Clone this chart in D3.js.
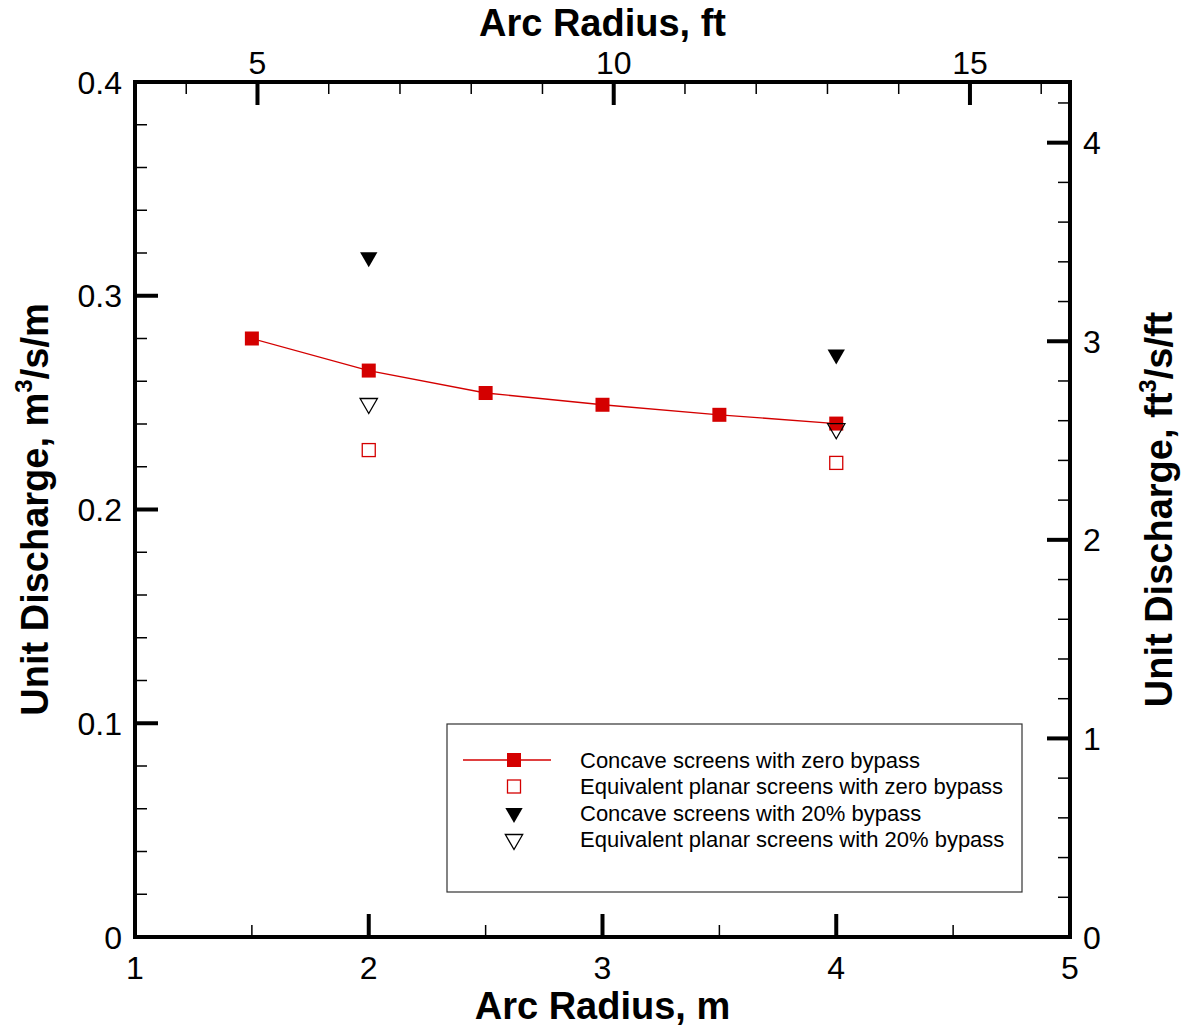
<!DOCTYPE html>
<html>
<head>
<meta charset="utf-8">
<style>
body { margin: 0; background: #fff; }
text { font-family: "Liberation Sans", Arial, sans-serif; }
.tick-label { font-size: 32px; fill: #000; }
.axis-title { font-size: 38px; font-weight: bold; fill: #000; }
.legend text { font-size: 22px; fill: #000; }
</style>
<script src="https://d3js.org/d3.v7.min.js"></script>
</head>
<body>
<svg width="1183" height="1028"></svg>
<script>

// arc radius (m)
var radiusZero = [1.5, 2, 2.5, 3, 3.5, 4];
var concaveZero = [0.280, 0.265, 0.2545, 0.249, 0.2443, 0.2402];
var radiusCmp = [2, 4];
var planarZero = [0.2278, 0.2218];
var concave20 = [0.318, 0.2725];
var planar20 = [0.2496, 0.2378];

var legendLabels = [
  "Concave screens with zero bypass",
  "Equivalent planar screens with zero bypass",
  "Concave screens with 20% bypass",
  "Equivalent planar screens with 20% bypass"
];

var M_TO_FT = 3.28084, Q_TO_FT = 10.7639;

var svg = d3.select("svg"),
    margin = {top: 82, right: 113, bottom: 91, left: 135},
    width = 1183 - margin.left - margin.right,
    height = 1028 - margin.top - margin.bottom,
    g = svg.append("g").attr("transform", "translate(" + margin.left + "," + margin.top + ")");

var x = d3.scaleLinear().domain([1, 5]).range([0, width]);
var y = d3.scaleLinear().domain([0, 0.4]).range([height, 0]);
var xFt = d3.scaleLinear().domain([1 * M_TO_FT, 5 * M_TO_FT]).range([0, width]);
var yFt = d3.scaleLinear().domain([0, 0.4 * Q_TO_FT]).range([height, 0]);

// inward ticks: minor then major
function ticks(scale, minor, major, fmt, side) {
  var minorT = d3.range(Math.ceil(scale.domain()[0] / minor - 1e-6), Math.floor(scale.domain()[1] / minor + 1e-6) + 1)
      .map(function(i) { return i * minor; });
  var majorT = d3.range(Math.ceil(scale.domain()[0] / major - 1e-6), Math.floor(scale.domain()[1] / major + 1e-6) + 1)
      .map(function(i) { return i * major; });
  var grp = g.append("g");
  function drawTick(v, len, sw) {
    var p = scale(v), line = grp.append("line").attr("stroke", "#000").attr("stroke-width", sw);
    if (side === "bottom") line.attr("x1", p).attr("x2", p).attr("y1", height).attr("y2", height - len);
    if (side === "top") line.attr("x1", p).attr("x2", p).attr("y1", 0).attr("y2", len);
    if (side === "left") line.attr("x1", 0).attr("x2", len).attr("y1", p).attr("y2", p);
    if (side === "right") line.attr("x1", width).attr("x2", width - len).attr("y1", p).attr("y2", p);
  }
  minorT.forEach(function(v) { drawTick(v, 12, 1.5); });
  majorT.forEach(function(v) {
    drawTick(v, 23, 4);
    var p = scale(v), t = grp.append("text").attr("class", "tick-label").text(fmt(v));
    if (side === "bottom") t.attr("x", p).attr("y", height + 42).attr("text-anchor", "middle");
    if (side === "top") t.attr("x", p).attr("y", -8).attr("text-anchor", "middle");
    if (side === "left") t.attr("x", -13).attr("y", p + 11.5).attr("text-anchor", "end");
    if (side === "right") t.attr("x", width + 13).attr("y", p + 11.5).attr("text-anchor", "start");
  });
}

ticks(x, 0.5, 1, d3.format("d"), "bottom");
ticks(xFt, 1, 5, d3.format("d"), "top");
ticks(y, 0.02, 0.1, function(v) { return v === 0 ? "0" : d3.format(".1f")(v); }, "left");
ticks(yFt, 0.2, 1, d3.format("d"), "right");

g.append("rect")
    .attr("width", width).attr("height", height)
    .attr("fill", "none").attr("stroke", "#000").attr("stroke-width", 4);

// axis titles
svg.append("text").attr("class", "axis-title").attr("text-anchor", "middle")
    .attr("x", margin.left + width / 2).attr("y", 1019).text("Arc Radius, m");
svg.append("text").attr("class", "axis-title").attr("text-anchor", "middle")
    .attr("x", margin.left + width / 2).attr("y", 36).text("Arc Radius, ft");
var yl = svg.append("text").attr("class", "axis-title").attr("text-anchor", "middle")
    .attr("transform", "translate(48," + (margin.top + height / 2) + ") rotate(-90)");
yl.append("tspan").text("Unit Discharge, m");
yl.append("tspan").attr("dy", -16).attr("font-size", 24).text("3");
yl.append("tspan").attr("dy", 16).text("/s/m");
var yr = svg.append("text").attr("class", "axis-title").attr("text-anchor", "middle")
    .attr("transform", "translate(1172," + (margin.top + height / 2) + ") rotate(-90)");
yr.append("tspan").text("Unit Discharge, ft");
yr.append("tspan").attr("dy", -16).attr("font-size", 24).text("3");
yr.append("tspan").attr("dy", 16).text("/s/ft");

var red = "#d40000";
var tri = d3.symbol().type(d3.symbolTriangle).size(130);

function marker(sel, kind) {
  if (kind === 0) sel.append("rect").attr("x", -7).attr("y", -7).attr("width", 14).attr("height", 14).attr("fill", red);
  if (kind === 1) sel.append("rect").attr("x", -6.5).attr("y", -6.5).attr("width", 13).attr("height", 13)
      .attr("fill", "none").attr("stroke", red).attr("stroke-width", 1.3);
  if (kind === 2) sel.append("path").attr("d", tri).attr("transform", "rotate(180)").attr("fill", "#000");
  if (kind === 3) sel.append("path").attr("d", tri).attr("transform", "rotate(180)")
      .attr("fill", "none").attr("stroke", "#000").attr("stroke-width", 1.3);
}

var line = d3.line().x(function(d) { return x(d[0]); }).y(function(d) { return y(d[1]); });
var zeroPts = d3.zip(radiusZero, concaveZero);
g.append("path").attr("d", line(zeroPts)).attr("fill", "none").attr("stroke", red).attr("stroke-width", 1.3);

function plot(pts, kind) {
  pts.forEach(function(d) {
    var m = g.append("g").attr("transform", "translate(" + x(d[0]) + "," + y(d[1]) + ")");
    marker(m, kind);
  });
}
plot(zeroPts, 0);
plot(d3.zip(radiusCmp, planarZero), 1);
plot(d3.zip(radiusCmp, concave20), 2);
plot(d3.zip(radiusCmp, planar20), 3);

// legend
var lg = svg.append("g").attr("class", "legend").attr("transform", "translate(447,724)");
lg.append("rect").attr("width", 575).attr("height", 168).attr("fill", "#fff")
    .attr("stroke", "#333").attr("stroke-width", 1.2);
legendLabels.forEach(function(lbl, i) {
  var ry = 36 + i * 26.5;
  if (i === 0) lg.append("line").attr("x1", 16).attr("x2", 104).attr("y1", ry).attr("y2", ry)
      .attr("stroke", red).attr("stroke-width", 1.3);
  var m = lg.append("g").attr("transform", "translate(67," + ry + ")");
  marker(m, i);
  lg.append("text").attr("x", 133).attr("y", ry + 7.5).text(lbl);
});

</script>
</body>
</html>
